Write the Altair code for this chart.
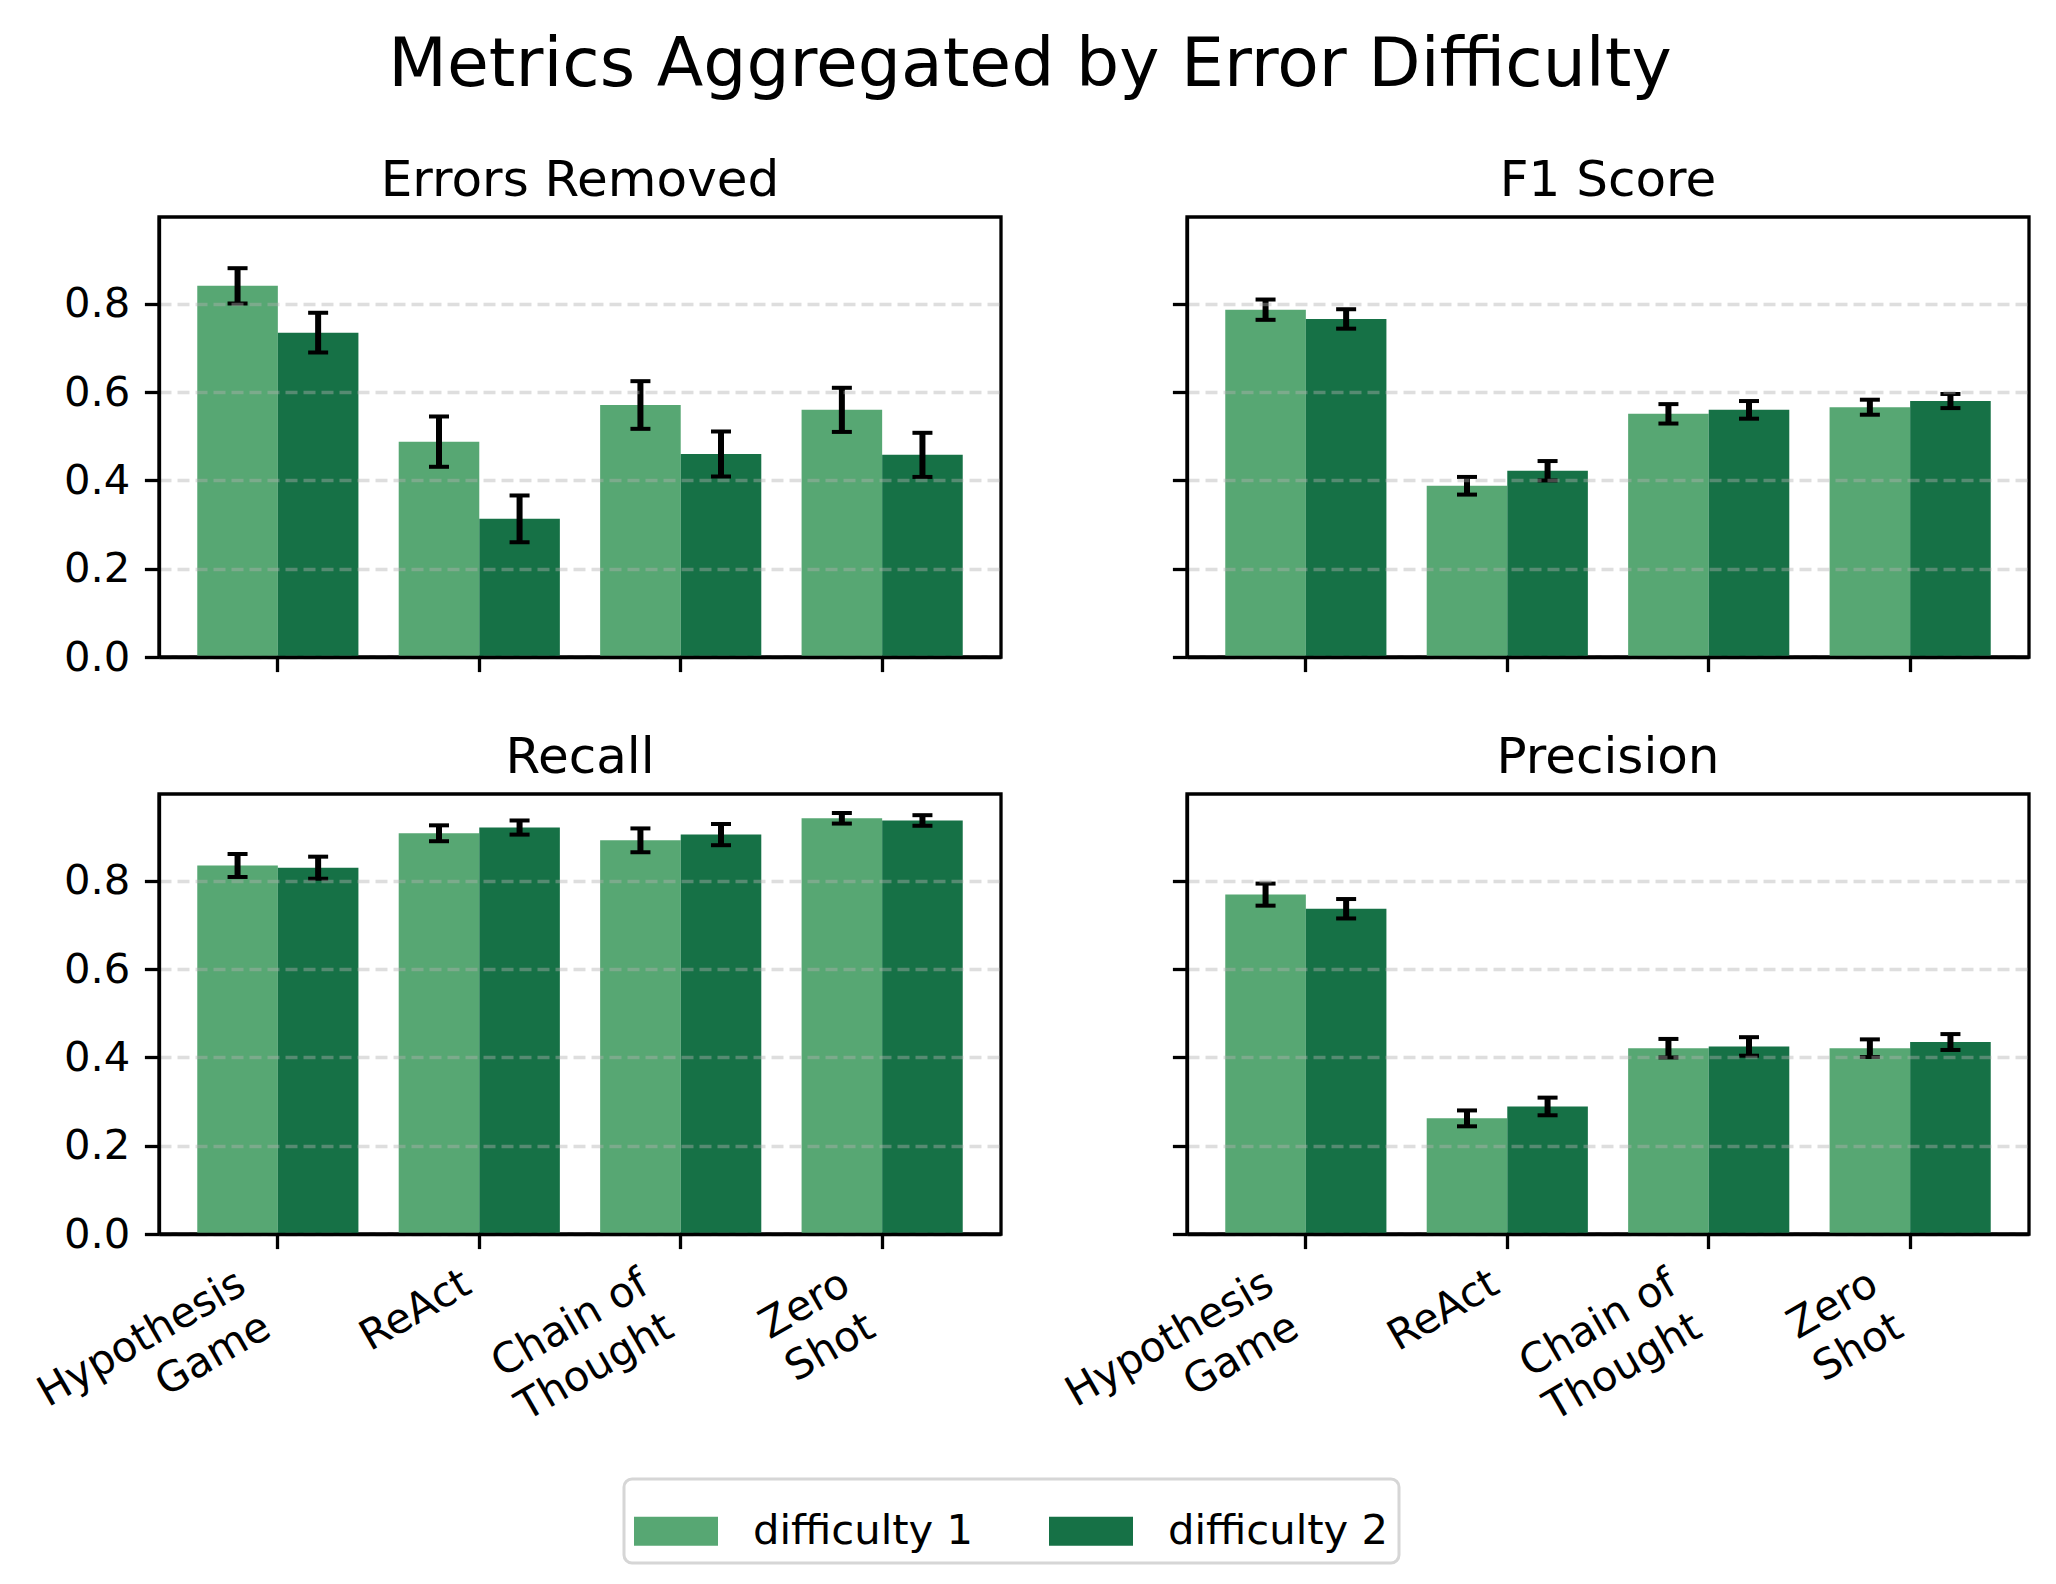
import altair as alt
import pandas as pd

methods = ["Hypothesis Game", "ReAct", "Chain of Thought", "Zero Shot"]
difficulties = ["difficulty 1", "difficulty 2"]
metrics = ["Errors Removed", "F1 Score", "Recall", "Precision"]
colors = ["#57A773", "#167146"]

# mean values (difficulty 1, difficulty 2) and error half-widths
errors_removed_d1 = [0.841, 0.488, 0.571, 0.560]
errors_removed_d2 = [0.735, 0.313, 0.460, 0.458]
errors_removed_e1 = [0.040, 0.057, 0.054, 0.050]
errors_removed_e2 = [0.045, 0.053, 0.051, 0.050]

f1_d1 = [0.787, 0.388, 0.551, 0.566]
f1_d2 = [0.766, 0.422, 0.560, 0.580]
f1_e1 = [0.023, 0.020, 0.022, 0.017]
f1_e2 = [0.022, 0.022, 0.020, 0.016]

recall_d1 = [0.835, 0.908, 0.892, 0.942]
recall_d2 = [0.830, 0.921, 0.905, 0.937]
recall_e1 = [0.026, 0.018, 0.027, 0.012]
recall_e2 = [0.025, 0.016, 0.024, 0.012]

precision_d1 = [0.769, 0.262, 0.421, 0.421]
precision_d2 = [0.737, 0.289, 0.425, 0.435]
precision_e1 = [0.025, 0.018, 0.021, 0.020]
precision_e2 = [0.022, 0.020, 0.021, 0.018]

series = {
    "Errors Removed": (errors_removed_d1, errors_removed_d2, errors_removed_e1, errors_removed_e2),
    "F1 Score": (f1_d1, f1_d2, f1_e1, f1_e2),
    "Recall": (recall_d1, recall_d2, recall_e1, recall_e2),
    "Precision": (precision_d1, precision_d2, precision_e1, precision_e2),
}

rows = []
for m in metrics:
    d1, d2, e1, e2 = series[m]
    for i, meth in enumerate(methods):
        for diff, v, e in ((difficulties[0], d1[i], e1[i]), (difficulties[1], d2[i], e2[i])):
            rows.append({"metric": m, "method": meth, "difficulty": diff,
                         "value": v, "lo": v - e, "hi": v + e})
df = pd.DataFrame(rows)

FONT = "DejaVu Sans"
TICK_FS = 41.7
PW, PH = 842, 440

label_expr = "datum.value == 'Chain of Thought' ? ['Chain of', 'Thought'] : split(datum.value, ' ')"


def panel(metric, show_x_labels, show_y_labels):
    base = alt.Chart(df).transform_filter(alt.datum.metric == metric)
    x_axis = alt.Axis(
        title=None, labels=show_x_labels, labelExpr=label_expr, labelAngle=-30,
        labelAlign="right", labelBaseline="top", labelFontSize=TICK_FS, labelFont=FONT,
        labelLineHeight=50, labelPadding=14, labelLimit=1000,
        labelOffset={"condition": {"test": "datum.value == 'ReAct'", "value": -22}, "value": -46},
        ticks=True, tickSize=14.6, tickWidth=3.3, tickColor="black",
        domain=True, domainColor="black", domainWidth=3.3, grid=False, zindex=1,
    )
    y_axis = alt.Axis(
        title=None, labels=show_y_labels, values=[0, 0.2, 0.4, 0.6, 0.8], format=".1f",
        labelFontSize=TICK_FS, labelFont=FONT, labelPadding=14.6,
        ticks=True, tickSize=14.6, tickWidth=3.3, tickColor="black",
        domain=True, domainColor="black", domainWidth=3.3,
        grid=True, gridColor="#b0b0b0", gridOpacity=0.42, gridWidth=3.3, gridDash=[12, 6],
        zindex=1,
    )
    x = alt.X("method:N", sort=methods,
              scale=alt.Scale(paddingInner=0.2, paddingOuter=0.19), axis=x_axis)
    xoff = alt.XOffset("difficulty:N", sort=difficulties,
                       scale=alt.Scale(paddingInner=0, paddingOuter=0))
    yscale = alt.Scale(domain=[0, 0.997], nice=False, zero=True)
    bars = base.mark_bar().encode(
        x=x, xOffset=xoff,
        y=alt.Y("value:Q", scale=yscale, axis=y_axis),
        color=alt.Color(
            "difficulty:N", sort=difficulties,
            scale=alt.Scale(domain=difficulties, range=colors),
            legend=alt.Legend(
                title=None, orient="none", legendX=465, legendY=1262,
                direction="horizontal", symbolType="M-1,-0.345H1V0.345H-1Z",
                symbolSize=7056, symbolStrokeWidth=0, symbolOpacity=1,
                labelFontSize=TICK_FS, labelFont=FONT, labelOffset=35, labelLimit=1000,
                columnPadding=75, padding=10, strokeColor="#d6d6d6",
                cornerRadius=8, fillColor="white",
            ),
        ),
    )
    rules = base.mark_rule(color="black", strokeWidth=6).encode(
        x=x, xOffset=xoff,
        y=alt.Y("lo:Q", scale=yscale, axis=y_axis), y2="hi:Q",
    )
    cap_lo = base.mark_tick(color="black", thickness=4, size=20, opacity=1).encode(
        x=x, xOffset=xoff, y=alt.Y("lo:Q", scale=yscale, axis=y_axis))
    cap_hi = base.mark_tick(color="black", thickness=4, size=20, opacity=1).encode(
        x=x, xOffset=xoff, y=alt.Y("hi:Q", scale=yscale, axis=y_axis))
    return alt.layer(bars, rules, cap_lo, cap_hi).properties(
        width=PW, height=PH,
        title=alt.TitleParams(metric, fontSize=50, fontWeight="normal", font=FONT,
                              anchor="middle", baseline="bottom", offset=-39,
                              color="black"),
    )


chart = alt.concat(
    panel("Errors Removed", False, True), panel("F1 Score", False, False),
    panel("Recall", True, True), panel("Precision", True, False),
    columns=2, spacing={"row": 137, "column": 186}, bounds="flush",
).resolve_scale(color="shared").resolve_legend(color="shared").properties(
    title=alt.TitleParams("Metrics Aggregated by Error Difficulty", fontSize=68,
                          fontWeight="normal", font=FONT, anchor="middle",
                          baseline="bottom", offset=-14, color="black"),
    padding={"left": 21, "top": 24, "right": 10, "bottom": 5},
    background="white",
).configure_view(
    stroke="black", strokeWidth=3.3
).configure_legend(
    strokeWidth=3
)

chart.save("out.html", embed_options={"renderer": "svg", "actions": False})
